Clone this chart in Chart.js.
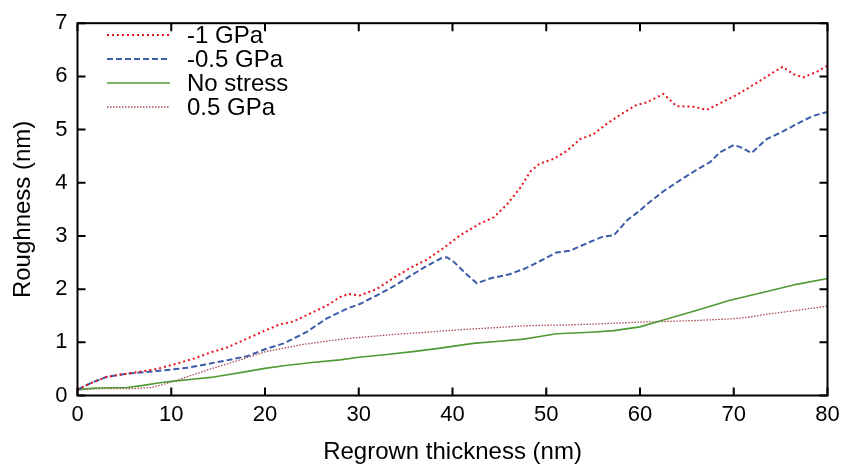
<!DOCTYPE html>
<html>
<head>
<meta charset="utf-8">
<script src="https://cdn.jsdelivr.net/npm/chart.js@4/dist/chart.umd.min.js"></script>
<style>
html,body{margin:0;padding:0;background:#fff;}
#wrap{width:848px;height:472px;position:relative;}
</style>
</head>
<body>
<div id="wrap"><canvas id="c" width="848" height="472"></canvas></div>
<script>
// ---- data ----
const seriesLabels = ['-1 GPa', '-0.5 GPa', 'No stress', '0.5 GPa'];
const xTicks = [0, 10, 20, 30, 40, 50, 60, 70, 80];
const yTicks = [0, 1, 2, 3, 4, 5, 6, 7];

const redX = [0, 1.5, 3.1, 5.3, 8.5, 10.6, 12.5, 14.2, 15.9, 18.1, 20, 21.6, 23.0, 24.8, 26.6, 28.0, 28.9, 30.1, 31.9, 33.7, 35.5, 37.2, 38.7, 39.7, 40.8, 42.9, 44.4, 45.8, 47.2, 48.3, 49.3, 50.8, 52.2, 53.6, 55.0, 56.4, 57.9, 59.6, 60.7, 62.5, 63.9, 65.7, 67.1, 68.5, 70.3, 72.1, 73.9, 75.2, 76.4, 77.4, 78.9, 80];
const redY = [0.11, 0.24, 0.35, 0.41, 0.50, 0.60, 0.70, 0.81, 0.90, 1.07, 1.22, 1.34, 1.39, 1.54, 1.69, 1.85, 1.91, 1.88, 2.00, 2.21, 2.40, 2.55, 2.73, 2.86, 3.01, 3.23, 3.35, 3.59, 3.90, 4.21, 4.36, 4.45, 4.60, 4.82, 4.91, 5.10, 5.28, 5.46, 5.51, 5.67, 5.44, 5.43, 5.37, 5.49, 5.65, 5.84, 6.04, 6.18, 6.04, 5.98, 6.09, 6.20];

const blueX = [0, 1.5, 3.1, 5.3, 8.5, 11.7, 13.5, 15.6, 18.1, 20, 22, 24.4, 26.6, 28.7, 30.1, 31.9, 33.7, 35.5, 37.2, 38.8, 39.4, 40.1, 41.5, 42.6, 44.0, 46.1, 47.9, 49.7, 51.1, 52.5, 54.7, 56.1, 57.2, 58.6, 60.0, 60.7, 62.5, 64.3, 66.0, 67.5, 68.5, 70.0, 70.7, 71.9, 73.5, 75.3, 77.1, 78.5, 80];
const blueY = [0.11, 0.24, 0.35, 0.41, 0.46, 0.52, 0.58, 0.65, 0.74, 0.87, 0.98, 1.19, 1.45, 1.63, 1.72, 1.88, 2.05, 2.25, 2.43, 2.58, 2.60, 2.52, 2.28, 2.11, 2.20, 2.28, 2.40, 2.56, 2.69, 2.72, 2.89, 2.99, 3.01, 3.29, 3.48, 3.59, 3.84, 4.05, 4.24, 4.39, 4.57, 4.71, 4.67, 4.56, 4.82, 4.97, 5.14, 5.26, 5.33];

const greenX = [0, 2, 5.3, 7, 8.8, 10.3, 12, 14.2, 16, 17.7, 20, 22, 25, 28, 30, 33, 36, 38.7, 42.2, 45, 47.6, 49.3, 51.1, 54.7, 57.2, 60, 62.5, 66, 69.6, 73.2, 76.7, 80];
const greenY = [0.11, 0.14, 0.15, 0.19, 0.24, 0.27, 0.30, 0.34, 0.39, 0.44, 0.51, 0.56, 0.62, 0.67, 0.72, 0.77, 0.83, 0.89, 0.98, 1.02, 1.06, 1.11, 1.16, 1.19, 1.22, 1.29, 1.42, 1.60, 1.79, 1.94, 2.09, 2.20];

const brownX = [0, 3, 6, 7.8, 9, 10.3, 12.7, 14.2, 17, 20, 22, 24.1, 26.5, 28.7, 31.2, 34, 36.5, 38.7, 42, 45, 47.6, 50, 52.9, 56, 60, 62.5, 66, 69.6, 71.5, 73.2, 76.7, 80];
const brownY = [0.11, 0.13, 0.13, 0.15, 0.20, 0.27, 0.41, 0.50, 0.65, 0.82, 0.89, 0.96, 1.02, 1.07, 1.11, 1.15, 1.18, 1.21, 1.25, 1.28, 1.31, 1.32, 1.33, 1.35, 1.38, 1.39, 1.41, 1.44, 1.47, 1.52, 1.60, 1.68];

// ---- build chart ----
function pts(xs, ys) { return xs.map((x, i) => ({ x: x, y: ys[i] })); }

const FONT = '"Liberation Sans", Arial, Helvetica, sans-serif';

const styles = [
  { color: '#e8121a', dash: [2, 3], width: 2 },
  { color: '#3d5ca8', dash: [6, 3], width: 2 },
  { color: '#4f9a34', dash: [], width: 1.6 },
  { color: '#a84c50', dash: [1.5, 1.5], width: 1.3 }
];
const allX = [redX, blueX, greenX, brownX];
const allY = [redY, blueY, greenY, brownY];

const datasets = seriesLabels.map((lab, i) => ({
  label: lab,
  data: pts(allX[i], allY[i]),
  borderColor: styles[i].color,
  backgroundColor: styles[i].color,
  borderDash: styles[i].dash,
  borderWidth: styles[i].width,
  pointRadius: 0,
  tension: 0,
  fill: false
}));

const framePlugin = {
  id: 'frame',
  afterDatasetsDraw(chart) {
    const ctx = chart.ctx;
    const a = chart.chartArea;
    const xs = chart.scales.x, ys = chart.scales.y;
    ctx.save();
    ctx.strokeStyle = '#000';
    ctx.lineWidth = 2;
    ctx.setLineDash([]);
    const tl = 8;
    ctx.beginPath();
    xTicks.forEach(v => {
      const p = xs.getPixelForValue(v);
      ctx.moveTo(p, a.bottom); ctx.lineTo(p, a.bottom - tl);
      ctx.moveTo(p, a.top); ctx.lineTo(p, a.top + tl);
    });
    yTicks.forEach(v => {
      const p = ys.getPixelForValue(v);
      ctx.moveTo(a.left, p); ctx.lineTo(a.left + tl, p);
      ctx.moveTo(a.right, p); ctx.lineTo(a.right - tl, p);
    });
    ctx.stroke();
    ctx.strokeRect(a.left, a.top, a.right - a.left, a.bottom - a.top);

    // legend inside plot, top-left (gnuplot style)
    ctx.font = '24px ' + FONT;
    ctx.textBaseline = 'middle';
    ctx.textAlign = 'left';
    const rows = [35, 59, 83, 107];
    chart.data.datasets.forEach((ds, i) => {
      const y = rows[i];
      ctx.beginPath();
      ctx.strokeStyle = ds.borderColor;
      ctx.lineWidth = ds.borderWidth;
      ctx.setLineDash(ds.borderDash);
      ctx.moveTo(107, y); ctx.lineTo(170, y);
      ctx.stroke();
      ctx.setLineDash([]);
      ctx.fillStyle = '#000';
      ctx.fillText(ds.label, 187, y + 1);
    });
    ctx.restore();
  }
};

new Chart(document.getElementById('c'), {
  type: 'line',
  data: { datasets: datasets },
  options: {
    responsive: false,
    animation: false,
    events: [],
    layout: { padding: { top: 15, right: 20.5, bottom: 0, left: 0 } },
    plugins: { legend: { display: false }, tooltip: { enabled: false } },
    scales: {
      x: {
        type: 'linear', min: 0, max: 80,
        afterBuildTicks(s) { s.ticks = xTicks.map(v => ({ value: v })); },
        ticks: { font: { family: FONT, size: 22 }, color: '#000', padding: 6, maxRotation: 0 },
        grid: { display: false, drawTicks: false },
        border: { display: false },
        title: { display: true, text: 'Regrown thickness (nm)', color: '#000', font: { family: FONT, size: 24 }, padding: { top: 0, bottom: 5 } },
        afterFit(s) { s.height = 76.5; }
      },
      y: {
        type: 'linear', min: 0, max: 7,
        afterBuildTicks(s) { s.ticks = yTicks.map(v => ({ value: v })); },
        ticks: { font: { family: FONT, size: 22 }, color: '#000', padding: 10 },
        grid: { display: false, drawTicks: false },
        border: { display: false },
        title: { display: true, text: 'Roughness (nm)', color: '#000', font: { family: FONT, size: 24 }, padding: { top: 9, bottom: 0 } },
        afterFit(s) { s.width = 77.5; }
      }
    }
  },
  plugins: [framePlugin]
});
</script>
</body>
</html>
